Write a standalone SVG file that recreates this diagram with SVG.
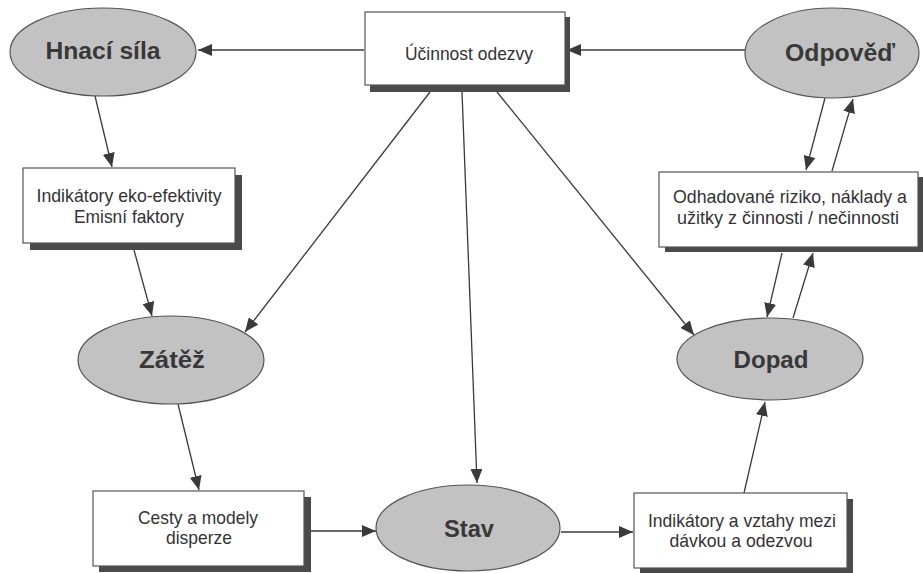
<svg xmlns="http://www.w3.org/2000/svg" width="923" height="573" viewBox="0 0 923 573">
<style>
.ell{fill:#c2c2c2;stroke:#555;stroke-width:1.2}
.box{fill:#fff;stroke:#555;stroke-width:1.2}
.sh{fill:#4a4a4a}
.et{font-family:"Liberation Sans",Arial,sans-serif;font-weight:bold;font-size:23px;fill:#383838;text-anchor:middle}
.bt{font-family:"Liberation Sans",Arial,sans-serif;font-size:19px;fill:#333;text-anchor:middle}
.c{stroke:#3a3a3a;stroke-width:1.3;fill:none;marker-end:url(#ah)}
</style>
<defs>
<marker id="ah" markerUnits="userSpaceOnUse" markerWidth="14" markerHeight="12" viewBox="0 0 14 12" refX="14" refY="6" orient="auto">
<path d="M0,0 L14,6 L0,12 z" fill="#3a3a3a"/>
</marker>
</defs>
<rect width="923" height="573" fill="#fff"/>
<g id="connectors">
<line class="c" x1="364" y1="50" x2="198" y2="50"/>
<line class="c" x1="745" y1="50" x2="567" y2="50"/>
<line class="c" x1="95" y1="96" x2="112" y2="167"/>
<line class="c" x1="134" y1="250" x2="152" y2="316"/>
<line class="c" x1="430" y1="92" x2="245" y2="332"/>
<line class="c" x1="462" y1="92" x2="477" y2="483"/>
<line class="c" x1="497" y1="92" x2="694" y2="335"/>
<line class="c" x1="178" y1="404" x2="199" y2="490"/>
<line class="c" x1="311" y1="531" x2="376" y2="531"/>
<line class="c" x1="561" y1="532" x2="633" y2="532"/>
<line class="c" x1="744" y1="493" x2="765" y2="402"/>
<line class="c" x1="825" y1="98" x2="806" y2="170"/>
<line class="c" x1="832" y1="171" x2="853" y2="99"/>
<line class="c" x1="782" y1="253" x2="767" y2="317"/>
<line class="c" x1="793" y1="318" x2="813" y2="253"/>
</g>
<g id="n-hnaci">
<ellipse class="ell" cx="103" cy="52" rx="93" ry="44"/>
<text class="et" x="103" y="59" textLength="115" lengthAdjust="spacingAndGlyphs">Hnací síla</text>
</g>
<g id="n-ucinnost">
<rect class="sh" x="370" y="17" width="200" height="75"/>
<rect class="box" x="365" y="12" width="200" height="73"/>
<text class="bt" x="469" y="60" textLength="128" lengthAdjust="spacingAndGlyphs">Účinnost odezvy</text>
</g>
<g id="n-odpoved">
<ellipse class="ell" cx="832" cy="53" rx="87" ry="45"/>
<text class="et" x="840" y="61" textLength="110" lengthAdjust="spacingAndGlyphs">Odpověď</text>
</g>
<g id="n-indeko">
<rect class="sh" x="30" y="175" width="212" height="75"/>
<rect class="box" x="23" y="168" width="212" height="75"/>
<text class="bt" x="129" y="202" textLength="185" lengthAdjust="spacingAndGlyphs">Indikátory eko-efektivity</text>
<text class="bt" x="129" y="223" textLength="110" lengthAdjust="spacingAndGlyphs">Emisní faktory</text>
</g>
<g id="n-odhad">
<rect class="sh" x="665" y="177" width="259" height="75"/>
<rect class="box" x="659" y="172" width="259" height="75"/>
<text class="bt" x="790" y="203" textLength="234" lengthAdjust="spacingAndGlyphs">Odhadované riziko, náklady a</text>
<text class="bt" x="788" y="224" textLength="222" lengthAdjust="spacingAndGlyphs">užitky z činnosti / nečinnosti</text>
</g>
<g id="n-zatez">
<ellipse class="ell" cx="171" cy="360" rx="93" ry="44"/>
<text class="et" x="172" y="368" textLength="66" lengthAdjust="spacingAndGlyphs">Zátěž</text>
</g>
<g id="n-dopad">
<ellipse class="ell" cx="770" cy="359" rx="93" ry="41"/>
<text class="et" x="771" y="368" textLength="75" lengthAdjust="spacingAndGlyphs">Dopad</text>
</g>
<g id="n-cesty">
<rect class="sh" x="99" y="497" width="212" height="75"/>
<rect class="box" x="93" y="491" width="211" height="75"/>
<text class="bt" x="198" y="524" textLength="120" lengthAdjust="spacingAndGlyphs">Cesty a modely</text>
<text class="bt" x="199" y="544" textLength="66" lengthAdjust="spacingAndGlyphs">disperze</text>
</g>
<g id="n-stav">
<ellipse class="ell" cx="468" cy="528" rx="92" ry="43"/>
<text class="et" x="469" y="537" textLength="50" lengthAdjust="spacingAndGlyphs">Stav</text>
</g>
<g id="n-indvztahy">
<rect class="sh" x="640" y="499" width="213" height="74"/>
<rect class="box" x="634" y="493" width="213" height="75"/>
<text class="bt" x="742" y="527" textLength="188" lengthAdjust="spacingAndGlyphs">Indikátory a vztahy mezi</text>
<text class="bt" x="741" y="547" textLength="143" lengthAdjust="spacingAndGlyphs">dávkou a odezvou</text>
</g>
</svg>
